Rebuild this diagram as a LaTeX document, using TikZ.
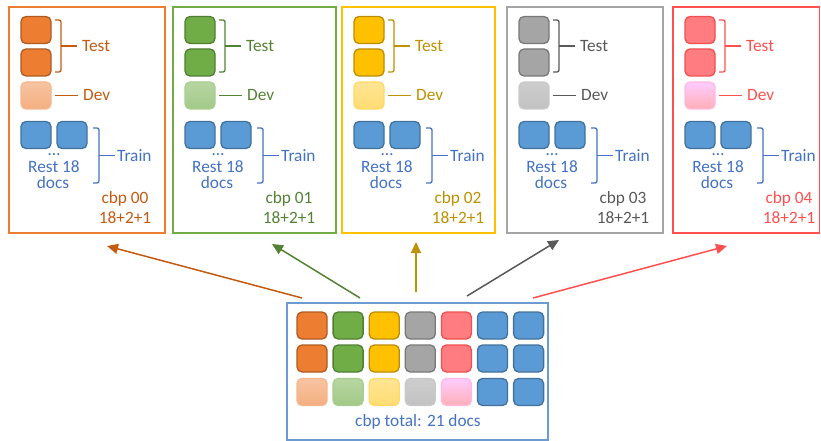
\documentclass[tikz,border=0pt]{standalone}
\usepackage{fontspec}
\setmainfont{Carlito}
\usetikzlibrary{arrows.meta}

\definecolor{orgF}{HTML}{ED7D31}\definecolor{orgD}{HTML}{AE5A21}\definecolor{orgT}{HTML}{C55A11}
\definecolor{grnF}{HTML}{70AD47}\definecolor{grnD}{HTML}{507E32}\definecolor{grnT}{HTML}{548235}
\definecolor{ylwF}{HTML}{FFC000}\definecolor{ylwD}{HTML}{BC8C00}\definecolor{ylwT}{HTML}{BF9000}
\definecolor{gryF}{HTML}{A5A5A5}\definecolor{gryD}{HTML}{787878}\definecolor{gryT}{HTML}{595959}
\definecolor{redF}{HTML}{FF7C80}\definecolor{redD}{HTML}{F05050}\definecolor{redT}{HTML}{FF5050}
\definecolor{bluF}{HTML}{5B9BD5}\definecolor{bluD}{HTML}{41719C}\definecolor{bluT}{HTML}{4472C4}
\definecolor{bluBox}{HTML}{6C9BD2}

\tikzset{
  sq/.style={rectangle, rounded corners=5pt, minimum width=30pt, minimum height=27pt,
             inner sep=0pt, line width=1.3pt},
  sqO/.style={fill=orgF, draw=orgD},
  sqG/.style={fill=grnF, draw=grnD},
  sqY/.style={fill=ylwF, draw=ylwD},
  sqK/.style={fill=gryF, draw=gryD},
  sqR/.style={fill=redF, draw=redD},
  sqB/.style={fill=bluF, draw=bluD},
  sqOL/.style={top color=orgF!45!white, bottom color=orgF!62!white, draw=orgF!55!white},
  sqGL/.style={top color=grnF!50!white, bottom color=grnF!65!white, draw=grnF!60!white},
  sqYL/.style={top color=ylwF!42!white, bottom color=ylwF!55!white, draw=ylwF!60!white},
  sqKL/.style={top color=gryF!55!white, bottom color=gryF!68!white, draw=gryF!60!white},
  sqRL/.style={top color={rgb,255:red,255;green,204;blue,255}, bottom color={rgb,255:red,255;green,175;blue,182},
               draw={rgb,255:red,255;green,185;blue,225}},
  lbl/.style={inner sep=0pt, font=\fontsize{17.3}{19}\selectfont},
  panelbox/.style={rectangle, line width=1.5pt, inner sep=0pt},
  brace/.style={line width=1.3pt, rounded corners=2pt},
  link/.style={line width=1.5pt, -{Triangle[length=11pt,width=10pt]}},
}

% one split panel: #1 name, #2 left x, #3 right x, #4 dark square style,
% #5 light square style, #6 text colour, #7 frame colour, #8 corpus number
\newcommand\cbppanel[8]{%
  \pgfmathsetmacro\panelw{#3-#2}%
  \node[panelbox, draw=#7, minimum width=\panelw pt, minimum height=226pt] (#1) at ({(#2+#3)/2},120) {};
  \node[sq, #4] (#1-t1) at (#2+27,30) {};
  \node[sq, #4] (#1-t2) at (#2+27,62.5) {};
  \node[sq, #5] (#1-dev) at (#2+27,95.5) {};
  \node[sq, sqB] (#1-tr1) at (#2+27,135) {};
  \node[sq, sqB] (#1-tr2) at (#2+63,135) {};
  \node[lbl, text=#6, anchor=west] (#1-testl) at (#2+73,46) {Test};
  \node[lbl, text=#6, anchor=west] (#1-devl) at (#2+74,95.5) {Dev};
  \node[lbl, text=bluT, anchor=west] (#1-trainl) at (#2+108,155.5) {Train};
  \node[lbl, text=bluT, anchor=base] (#1-dots) at (#2+45,155.5) {…};
  \node[lbl, text=bluT, anchor=base] (#1-rest) at (#2+45,172) {Rest 18};
  \node[lbl, text=bluT, anchor=base] (#1-docs) at (#2+44,188) {docs};
  \node[lbl, text=#6, anchor=base] (#1-name) at (#2+116,203) {cbp #8};
  \node[lbl, text=#6, anchor=base] (#1-sum) at (#2+116,223.5) {18+2+1};
  % braces and leader lines
  \draw[brace, draw=#6] (#2+46,20) -- (#2+52,20) -- (#2+52,72) -- (#2+46,72);
  \draw[brace, draw=#6] (#2+52,46) -- ([xshift=-5pt]#1-testl.west);
  \draw[brace, draw=#6] ([xshift=3pt]#1-dev.east) -- ([xshift=-5pt]#1-devl.west);
  \draw[brace, draw=bluT] (#2+84,128) -- (#2+90,128) -- (#2+90,183) -- (#2+84,183);
  \draw[brace, draw=bluT] (#2+90,155.5) -- ([xshift=-2pt]#1-trainl.west);
}

\begin{document}
\begin{tikzpicture}[x=1pt, y=-1pt]
  \useasboundingbox (0,0) rectangle (821,441);

  \cbppanel{p0}{9}{165}{sqO}{sqOL}{orgT}{orgF}{00}
  \cbppanel{p1}{173}{336}{sqG}{sqGL}{grnT}{grnF}{01}
  \cbppanel{p2}{342}{495}{sqY}{sqYL}{ylwT}{ylwF}{02}
  \cbppanel{p3}{507}{663}{sqK}{sqKL}{gryT}{gryF}{03}
  \cbppanel{p4}{673}{819.5}{sqR}{sqRL}{redT}{redT}{04}

  % whole corpus
  \node[panelbox, draw=bluBox, minimum width=261pt, minimum height=137pt] (total) at (417.5,371.5) {};
  \node[sq, sqO]  (b1-0) at (312,325.5) {};
  \node[sq, sqO]  (b2-0) at (312,358.5) {};
  \node[sq, sqOL] (b3-0) at (312,392) {};
  \node[sq, sqG]  (b1-1) at (348.1,325.5) {};
  \node[sq, sqG]  (b2-1) at (348.1,358.5) {};
  \node[sq, sqGL] (b3-1) at (348.1,392) {};
  \node[sq, sqY]  (b1-2) at (384.2,325.5) {};
  \node[sq, sqY]  (b2-2) at (384.2,358.5) {};
  \node[sq, sqYL] (b3-2) at (384.2,392) {};
  \node[sq, sqK]  (b1-3) at (420.3,325.5) {};
  \node[sq, sqK]  (b2-3) at (420.3,358.5) {};
  \node[sq, sqKL] (b3-3) at (420.3,392) {};
  \node[sq, sqR]  (b1-4) at (456.4,325.5) {};
  \node[sq, sqR]  (b2-4) at (456.4,358.5) {};
  \node[sq, sqRL] (b3-4) at (456.4,392) {};
  \node[sq, sqB]  (b1-5) at (492.5,325.5) {};
  \node[sq, sqB]  (b2-5) at (492.5,358.5) {};
  \node[sq, sqB]  (b3-5) at (492.5,392) {};
  \node[sq, sqB]  (b1-6) at (528.6,325.5) {};
  \node[sq, sqB]  (b2-6) at (528.6,358.5) {};
  \node[sq, sqB]  (b3-6) at (528.6,392) {};
  \node[lbl, text=bluT, anchor=base] (totl) at (418,426) {cbp total: 21 docs};

  % split arrows
  \coordinate (s0) at (302,298);  \coordinate (e0) at (107,246);
  \coordinate (s1) at (360,298);  \coordinate (e1) at (272,244);
  \coordinate (s2) at (416,292);  \coordinate (e2) at (416,242);
  \coordinate (s3) at (467,296);  \coordinate (e3) at (559,240);
  \coordinate (s4) at (533,298);  \coordinate (e4) at (727,246);
  \draw[link, draw=orgT, fill=orgT] (s0) -- (e0);
  \draw[link, draw=grnT, fill=grnT] (s1) -- (e1);
  \draw[link, draw=ylwT, fill=ylwT] (s2) -- (e2);
  \draw[link, draw=gryT, fill=gryT] (s3) -- (e3);
  \draw[link, draw=redT, fill=redT] (s4) -- (e4);
\end{tikzpicture}
\end{document}
